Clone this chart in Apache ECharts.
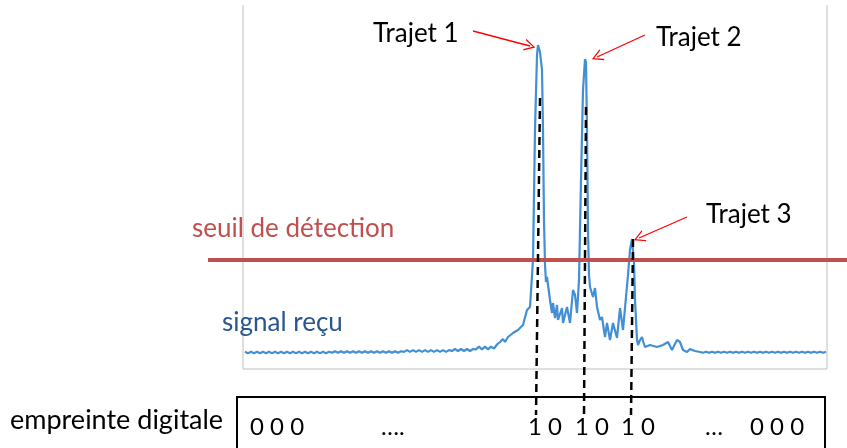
<!DOCTYPE html>
<html><head><meta charset="utf-8">
<script src="https://cdn.jsdelivr.net/npm/echarts@6/dist/echarts.min.js"></script>
<style>html,body{margin:0;padding:0;background:#fff}#c{width:847px;height:448px}</style>
</head><body><div id="c"></div>
<script>
// received signal: [time (ns), amplitude (a.u.)]
const signal = [
 [2,.172],[5,.158],[8,.172],[11,.158],[14,.172],[17,.158],[20,.172],[23,.158],[26,.172],[29,.158],
 [32,.172],[35,.158],[38,.172],[41,.158],[44,.172],[47,.158],[50,.172],[53,.158],[56,.172],[59,.158],
 [62,.172],[65,.158],[68,.172],[71,.158],[74,.172],[77,.158],[80,.172],[83,.158],[86,.172],[89,.162],
 [92,.178],[95,.162],[98,.178],[101,.162],[104,.178],[107,.162],[110,.178],[113,.162],[116,.178],[119,.162],
 [122,.178],[125,.162],[128,.178],[131,.162],[134,.178],[137,.162],[140,.178],[143,.162],[146,.178],[149,.162],
 [152,.178],[155,.162],[158,.178],[161,.171],[164,.189],[167,.171],[170,.189],[173,.171],[176,.189],[179,.171],
 [182,.189],[185,.171],[188,.189],[191,.171],[194,.189],[197,.171],[200,.189],[203,.171],[206,.189],[209,.18],
 [212,.20],[215,.18],[218,.20],[221,.18],[224,.20],[227,.18],[230,.20],[233,.197],[236,.223],[239,.197],
 [242,.223],[245,.197],[248,.223],[251,.205],[254,.245],
 [257,.27],[260,.30],[262,.27],[265,.32],[267,.31],[270,.36],[272,.34],[275,.39],[277,.37],[280,.44],
 [282,.42],[284,.59],[287,.62],[288,.61],[290,1.09],[292,2.39],[294,3.14],[295,3.24],[297,3.17],[299,2.99],
 [300,2.39],[301,1.49],[302,1.04],[303,.87],[304,.92],[307,.69],[309,.56],[310,.66],[312,.51],[314,.64],
 [315,.49],[319,.61],[320,.46],[324,.62],[327,.46],[330,.79],[332,.74],[334,.56],[336,.89],[338,1.89],
 [340,2.79],[342,3.10],[343,3.07],[344,2.39],[345,1.39],[346,.94],[347,.82],[350,.72],[352,.81],[354,.62],
 [357,.49],[359,.52],[362,.32],[364,.46],[367,.29],[370,.46],[374,.31],[377,.61],[380,.39],[383,.72],
 [385,.94],[387,1.19],[389,1.30],[390,1.28],[391,1.07],[392,.69],[394,.29],[395,.24],[397,.29],[399,.32],
 [400,.28],[402,.22],[404,.24],[407,.24],[414,.22],[420,.24],[425,.27],[429,.19],[434,.29],[437,.27],
 [440,.19],[444,.17],[447,.20],[452,.18],[457,.17],
 [460,.162],[463,.172],[466,.162],[469,.172],[472,.162],[475,.172],[478,.162],[481,.172],[484,.162],[487,.172],
 [490,.162],[493,.172],[496,.162],[499,.172],[502,.162],[505,.172],[508,.162],[511,.172],[514,.162],[517,.172],
 [520,.162],[523,.172],[526,.162],[529,.172],[532,.162],[535,.172],[538,.162],[541,.172],[544,.162],[547,.172],
 [550,.162],[553,.172],[556,.162],[559,.172],[562,.162],[565,.172],[568,.162],[571,.172],[574,.162],[577,.172],
 [580,.162],[583,.172]
];
const threshold = 1.09;
const timeRange = [0, 584];
const ampMax = 3.64;
const thresholdSpan = [-35, 604];
// dashed markers: from each path peak down to the fingerprint
const markerTop = [[297, 2.71], [343, 2.62], [390, 1.30]];
const markerBottom = [[293, -0.46], [341, -0.46], [388, -0.46]];
// arrows to each path (start, end)
const pathLabels = ['Trajet 1', 'Trajet 2', 'Trajet 3'];
const arrowStart = [[230, 3.38], [402, 3.34], [444, 1.52]];
const arrowEnd = [[287, 3.23], [354, 3.12], [396, 1.31]];
const fingerprint = ['0 0 0', '….', '1 0', '1 0', '1 0', '…', '0 0 0'];

const chart = echarts.init(document.getElementById('c'), null, {renderer: 'canvas'});
const FONT = 'Lato, "Open Sans", sans-serif';
const chevron = 'path://M50,0 L100,90 L88,90 L50,20 L12,90 L0,90 Z';

const series = [];
series.push({type: 'line', data: [[timeRange[0], ampMax], [timeRange[0], 0], [timeRange[1], 0], [timeRange[1], ampMax]],
  symbol: 'none', lineStyle: {color: '#BFBFBF', width: 1}, z: 1, silent: true});
series.push({type: 'line', data: signal, symbol: 'none', lineStyle: {color: '#428FD6', width: 2.2}, z: 2, silent: true});
series.push({type: 'line', data: [[thresholdSpan[0], threshold], [thresholdSpan[1], threshold]], symbol: 'none',
  lineStyle: {color: '#C0504D', width: 4}, z: 3, silent: true,
  markLine: {silent: true, symbol: ['none', chevron], symbolSize: [12, 11], label: {show: false},
    lineStyle: {color: '#FF0000', width: 1.3, type: 'solid'},
    data: arrowStart.map((s, i) => [{coord: s}, {coord: arrowEnd[i]}])}
});
markerTop.forEach((p, i) => {
  series.push({type: 'line', data: [p, markerBottom[i]], symbol: 'none',
    lineStyle: {color: '#000', width: 2.5, type: [8, 5]}, z: 5, silent: true});
});

const texts = [
  {t: pathLabels[0], x: 373, y: 34, c: '#000', s: 26},
  {t: pathLabels[1], x: 656, y: 38, c: '#000', s: 26},
  {t: pathLabels[2], x: 706, y: 215, c: '#000', s: 26},
  {t: 'seuil de détection', x: 192, y: 229, c: '#C0504D', s: 26},
  {t: 'signal reçu', x: 222, y: 323, c: '#29568F', s: 26},
  {t: 'empreinte digitale', x: 10, y: 420, c: '#000', s: 27}
];
const fpX = [250, 381, 528, 575, 621, 705, 750];
const graphic = texts.map(o => ({type: 'text', x: o.x, y: o.y, z: 10,
  style: {text: o.t, fill: o.c, font: o.s + 'px ' + FONT, textAlign: 'left', textVerticalAlign: 'middle', verticalAlign: 'middle'}}));
fingerprint.forEach((s, i) => graphic.push({type: 'text', x: fpX[i], y: 427, z: 10,
  style: {text: s, fill: '#000', font: '24px ' + FONT, textAlign: 'left', textVerticalAlign: 'middle', verticalAlign: 'middle'}}));
graphic.push({type: 'rect', z: 9, shape: {x: 237, y: 397, width: 588, height: 70},
  style: {fill: 'none', stroke: '#000', lineWidth: 2}});

chart.setOption({
  animation: false,
  grid: {left: 208, right: 0, top: 5, bottom: 28, containLabel: false},
  xAxis: {type: 'value', min: thresholdSpan[0], max: thresholdSpan[1], show: false},
  yAxis: {type: 'value', min: -0.51, max: ampMax, show: false},
  series: series,
  graphic: graphic
});
</script></body></html>
